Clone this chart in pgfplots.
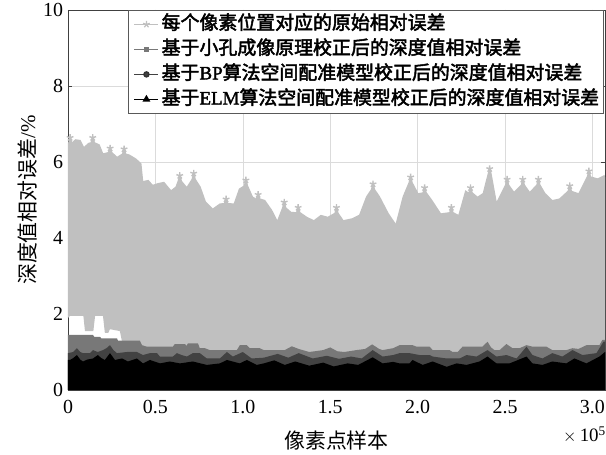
\documentclass[border=0pt]{standalone}
\usepackage{fontspec}
\setmainfont{Liberation Serif}
\newfontfamily\cjk{Noto Sans CJK SC}
\newfontfamily\cjkb{Noto Sans CJK SC}[RawFeature={embolden=2.5}]
\newfontfamily\serb{Liberation Serif}[RawFeature={embolden=2}]
\usepackage{pgfplots}
\pgfplotsset{compat=1.18}
\definecolor{cA}{RGB}{192,192,192}
\definecolor{cB}{RGB}{120,120,120}
\definecolor{cC}{RGB}{66,66,66}
\definecolor{cD}{RGB}{0,0,0}
\newcommand{\zh}[1]{{\cjk #1}}
\newcommand{\zb}[1]{{\cjkb #1}}
\begin{document}
\begin{tikzpicture}
\useasboundingbox (-68bp,-65bp) rectangle (538bp,390bp);
\begin{axis}[
  at={(0,0)}, anchor=south west,
  scale only axis, width=537bp, height=380bp,
  xmin=0, xmax=307200, ymin=0, ymax=10,
  xtick={0,50000,100000,150000,200000,250000,300000},
  xticklabels={0,0.5,1.0,1.5,2.0,2.5,3.0},
  scaled x ticks=false,
  ytick={0,2,4,6,8,10},
  /pgf/number format/assume math mode=true,
  grid=major,
  grid style={black!14, line width=0.6bp},
  axis line style={black!75, line width=0.8bp},
  tick style={black!75, line width=0.6bp},
  major tick length=4bp,
  tick label style={font=\fontsize{20}{20}\selectfont},
  xticklabel style={yshift=-7bp},
  yticklabel style={xshift=-1.5bp},
  xlabel={\zh{像素点样本}},
  ylabel={\zh{深度值相对误差}/\%},
  xlabel style={font=\fontsize{21}{21}\selectfont, at={(axis description cs:0.5,-0.134)}, anchor=center},
  ylabel style={font=\fontsize{21}{21}\selectfont, at={(axis description cs:-0.076,0.5)}, anchor=center},
  legend image code/.code={\path (-4bp,0bp); \draw[mark repeat=2,mark phase=2,#1] plot coordinates {(0bp,0bp) (12bp,0bp) (24bp,0bp)};},
  legend cell align=left,
  legend style={at={(rel axis cs:1,1)}, anchor=north east, xshift=-1.5bp,
    draw=black!65, line width=0.8bp, fill=white, inner sep=1.5bp,
    font=\fontsize{19}{19}\selectfont, row sep=0bp,
    nodes={inner sep=2.5bp, text height=15bp, text depth=5bp}},
]
% original relative error (light grey): upper envelope, then lower envelope back
\addplot[fill=cA, draw=none, forget plot] coordinates {
(0,1.9) (0,6.50) (200,6.52) (1195,6.72) (2400,6.52) (4183,6.60) (7171,6.58) (9163,6.40)
(11554,6.50) (12900,6.52) (14143,6.72) (15400,6.52) (18127,6.46) (20119,6.23) (22900,6.26) (24103,6.44)
(25300,6.26) (28087,6.14) (30900,6.22) (32071,6.42) (33300,6.22) (35059,6.20) (39043,6.09) (42031,5.96)
(43027,5.50) (46015,5.53) (48500,5.40) (50995,5.44) (54979,5.48) (58963,5.26) (61500,5.35)
(62700,5.50) (63943,5.72) (65200,5.50) (67927,5.35) (70700,5.55) (71911,5.78) (73100,5.55) (75895,5.35) (78883,4.96) (82867,4.78)
(86851,4.91) (89200,4.92) (90437,5.10) (91700,4.92) (94819,4.91) (97807,5.30) (100600,5.38) (101791,5.60) (103000,5.38) (105775,5.09)
(107600,5.04) (108763,5.22) (110000,5.04)
(112747,5.00) (116731,4.74) (119719,4.47) (122500,4.80) (123703,5.02) (124900,4.80) (127687,4.69) (130500,4.68) (131671,4.88) (132900,4.68)
(136651,4.56) (140635,4.47) (144619,4.61) (148603,4.56) (152400,4.66) (153583,4.88) (154800,4.66) (157567,4.47)
(162547,4.52) (166531,4.61) (170515,5.09) (173300,5.28) (174499,5.50) (175700,5.28) (178483,5.09) (183463,4.65)
(187447,4.38) (191431,5.09) (194800,5.46) (196013,5.68) (197200,5.46) (200395,5.18) (202800,5.20) (203981,5.40) (205200,5.20) (208363,5.00)
(213343,4.65) (218100,4.68) (219319,4.88) (220500,4.68) (223303,4.61) (227287,5.26) (229100,5.20) (230275,5.40) (231500,5.20) (234259,5.09)
(237247,5.18) (240000,5.68) (241231,5.90) (242400,5.68) (245215,4.96) (250000,5.40) (251191,5.62) (252400,5.40) (255175,5.22) (259000,5.40) (260155,5.62)
(261400,5.40) (264139,5.22) (267900,5.40) (269119,5.62) (270300,5.40) (273103,5.18) (277087,5.00) (281071,5.04) (285800,5.24) (287047,5.45) (288300,5.24)
(292027,5.18) (296800,5.62) (298003,5.84) (299200,5.62) (302983,5.57) (306967,5.66) (307200,5.60)
(307200,1.0) (36000,1.0) (31000,1.25) (29700,1.55) (24000,1.6) (23000,1.5) (21100,1.5)
(20000,1.95) (15500,1.95) (14500,1.55) (9700,1.55) (8800,1.95) (1100,1.95) (0,1.9)
};
% star tips on the peaks of the light grey series
\addplot[only marks, mark=star, mark size=3.5bp, color=cA, line width=1.4bp, forget plot] coordinates {
(1195,6.64) (14143,6.64) (24103,6.36) (32071,6.34) (63943,5.64) (71911,5.70) (90437,5.02)
(101791,5.52) (108763,5.14) (123703,4.94) (131671,4.80) (153583,4.80) (174499,5.42)
(196013,5.60) (203981,5.32) (219319,4.80) (230275,5.32) (241231,5.82) (251191,5.54)
(260155,5.54) (269119,5.54) (287047,5.37) (298003,5.76)
};
% pinhole-model corrected (grey)
\addplot[fill=cB, draw=none, forget plot] coordinates {
(0,1.45) (14300,1.45) (15000,1.40) (18300,1.40) (19000,1.36) (28000,1.36) (28600,1.30)
(41100,1.30) (42300,1.18) (45100,1.14) (60000,1.14) (61100,1.21) (66900,1.21) (67800,1.16)
(68600,1.23) (74300,1.23) (75400,1.10) (78300,1.10) (81100,1.05) (96600,1.05) (98300,1.18)
(102300,1.18) (104000,1.10) (109700,1.10) (112000,1.05) (124000,1.05) (128000,1.15)
(132000,1.08) (138000,1.00) (146000,1.05) (150000,1.12) (154000,1.02) (158000,1.00)
(165000,1.05) (170000,1.08) (174000,1.20) (178000,1.08) (180000,1.05) (186000,1.10)
(189700,1.18) (197100,1.18) (199400,1.14) (206900,1.14) (208600,1.05) (218300,1.05)
(220000,1.00) (222900,1.00) (225700,1.14) (237100,1.14) (240000,1.27) (242000,1.12)
(244000,1.05) (246900,1.05) (250800,1.21) (254300,1.10) (258300,1.10) (262300,1.18)
(265700,1.14) (273700,1.14) (277100,1.05) (285100,1.05) (288600,1.10) (292000,1.08)
(296600,1.18) (304000,1.18) (305700,1.32) (307200,1.32)
} \closedcycle;
% BP corrected (dark grey)
\addplot[fill=cC, draw=none, forget plot] coordinates {
(0,0.97) (3000,1.00) (5100,1.10) (7000,1.00) (8600,0.97) (12600,0.97) (14300,1.05)
(17000,1.00) (20000,1.05) (22000,1.10) (24000,1.18) (26000,1.05) (28000,0.97) (33700,1.00)
(39400,1.00) (42900,0.92) (46900,0.97) (50900,0.97) (52600,0.88) (60000,0.88) (62300,0.97)
(65000,0.92) (68000,0.88) (71400,0.97) (75400,0.97) (79400,0.83) (86900,0.83) (90900,1.00)
(94300,0.88) (100000,1.00) (105100,0.83) (112000,0.85) (120000,0.95) (126000,0.85)
(132000,0.97) (140000,0.83) (148000,0.90) (155000,0.82) (162000,0.88) (168000,0.83)
(174300,1.05) (180000,0.88) (186000,0.92) (189700,0.97) (195400,0.97) (201100,0.92)
(206900,0.92) (208600,0.88) (216600,0.83) (224000,0.83) (228000,0.92) (233700,0.88)
(240000,1.05) (245100,0.88) (250800,0.92) (256600,0.83) (262300,1.14) (265700,0.92)
(271400,0.83) (277100,0.97) (282800,0.88) (288600,1.05) (294300,0.92) (302300,0.97)
(306300,1.27) (307200,1.27)
} \closedcycle;
% ELM corrected (black)
\addplot[fill=cD, draw=none, forget plot] coordinates {
(0,0.79) (1100,0.79) (3000,0.84) (5100,0.92) (7000,0.80) (8600,0.75) (11000,0.80)
(14300,0.83) (17100,0.92) (19000,0.84) (21100,0.79) (24000,0.97) (26900,0.79) (30900,0.83)
(34300,0.75) (39400,0.83) (42900,0.70) (46900,0.79) (52600,0.70) (58300,0.75) (64000,0.70)
(71400,0.75) (79400,0.66) (86900,0.70) (90900,0.79) (98300,0.70) (102300,0.79) (108000,0.66)
(112000,0.70) (118000,0.78) (124000,0.66) (130000,0.75) (138000,0.64) (146000,0.72)
(152000,0.62) (160000,0.70) (166000,0.66) (174300,0.86) (180000,0.70) (186000,0.74)
(189700,0.70) (195400,0.70) (197100,0.79) (202900,0.66) (208600,0.75) (216600,0.61)
(222300,0.70) (228000,0.66) (235400,0.75) (240000,0.88) (245100,0.70) (252600,0.70)
(262300,0.88) (265700,0.70) (271400,0.66) (277100,0.75) (285100,0.70) (289700,0.83)
(296600,0.70) (304000,0.88) (307200,1.00)
} \closedcycle;
\addlegendimage{color=cA, line width=1.2bp, mark=star, mark size=3.5bp}
\addlegendentry{\zb{每个像素位置对应的原始相对误差}}
\addlegendimage{color=cB, line width=1.2bp, mark=square*, mark size=2.2bp}
\addlegendentry{\zb{基于小孔成像原理校正后的深度值相对误差}}
\addlegendimage{color=cC, line width=1.4bp, mark=*, mark size=2.5bp, mark options={draw=black!80}}
\addlegendentry{\zb{基于}{\serb BP}\zb{算法空间配准模型校正后的深度值相对误差}}
\addlegendimage{color=cD, line width=1.4bp, mark=triangle*, mark size=3.2bp}
\addlegendentry{\zb{基于}{\serb ELM}\zb{算法空间配准模型校正后的深度值相对误差}}
\end{axis}
\node[anchor=east, font=\fontsize{19}{19}\selectfont, inner sep=0pt] at (538bp,-45bp) {$\times$\,10\textsuperscript{5}};
\end{tikzpicture}
\end{document}
